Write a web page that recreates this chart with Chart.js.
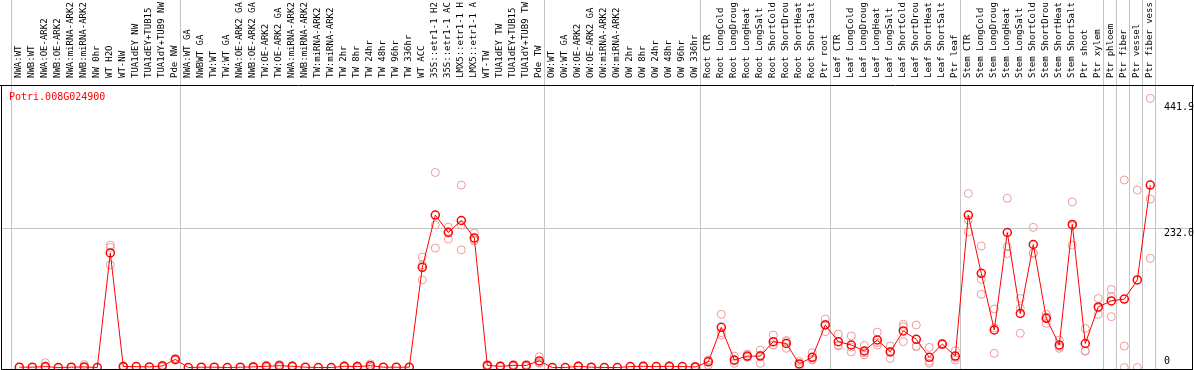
<!DOCTYPE html>
<html>
<head>
<meta charset="utf-8">
<script src="https://cdn.jsdelivr.net/npm/chart.js@4"></script>
<style>
  html, body { margin: 0; padding: 0; background: #fff; }
  canvas { display: block; }
</style>
</head>
<body>
<canvas id="geneChart" width="1194" height="370"></canvas>
<script>
// Sample names (truncated to 14 chars, as in the source plot)
const categories = [
  'NWA:WT', 'NWB:WT', 'NWA:OE-ARK2', 'NWB:OE-ARK2', 'NWA:miRNA-ARK2', 'NWB:miRNA-ARK2',
  'NW 0hr', 'WT H2O', 'WT-NW', 'TUA1dEY NW', 'TUA1dEY+TUB15', 'TUA1dY+TUB9 NW', 'Pde NW',
  'NWA:WT GA', 'NWBWT GA', 'TW:WT', 'TW:WT GA', 'NWA:OE-ARK2 GA', 'NWB:OE-ARK2 GA',
  'TW:OE-ARK2', 'TW:OE-ARK2 GA', 'NWA:miRNA-ARK2', 'NWB:miRNA-ARK2', 'TW:miRNA-ARK2',
  'TW:miRNA-ARK2', 'TW 2hr', 'TW 8hr', 'TW 24hr', 'TW 48hr', 'TW 96hr', 'TW 336hr',
  'WT ACC', '35S::etr1-1 H2', '35S::etr1-1 AC', 'LMX5::etr1-1 H', 'LMX5::etr1-1 A',
  'WT-TW', 'TUA1dEY TW', 'TUA1dEY+TUB15', 'TUA1dY+TUB9 TW', 'Pde TW',
  'OW:WT', 'OW:WT GA', 'OW:OE-ARK2', 'OW:OE-ARK2 GA', 'OW:miRNA-ARK2', 'OW:miRNA-ARK2',
  'OW 2hr', 'OW 8hr', 'OW 24hr', 'OW 48hr', 'OW 96hr', 'OW 336hr',
  'Root CTR', 'Root LongCold', 'Root LongDroug', 'Root LongHeat', 'Root LongSalt',
  'Root ShortCold', 'Root ShortDrou', 'Root ShortHeat', 'Root ShortSalt', 'Ptr root',
  'Leaf CTR', 'Leaf LongCold', 'Leaf LongDroug', 'Leaf LongHeat', 'Leaf LongSalt',
  'Leaf ShortCold', 'Leaf ShortDrou', 'Leaf ShortHeat', 'Leaf ShortSalt', 'Ptr leaf',
  'Stem CTR', 'Stem LongCold', 'Stem LongDroug', 'Stem LongHeat', 'Stem LongSalt',
  'Stem ShortCold', 'Stem ShortDrou', 'Stem ShortHeat', 'Stem ShortSalt', 'Ptr shoot',
  'Ptr xylem', 'Ptr phloem', 'Ptr fiber', 'Ptr vessel', 'Ptr fiber vess'
];

// mean expression per sample
const meanValues = [
  0.5, 0.5, 1.5, 0, 0.5, 1, 0, 191, 1.5, 1.5, 1, 2.5, 13.5,
  0, 0.5, 0.5, 0, 0.5, 1, 2, 3, 2, 0.5, 0, 0, 2, 1.5, 3, 0.5, 0.5, 0.5,
  167, 254, 225, 245, 216, 3.5, 2, 3.5, 3.5, 11,
  0, 0, 2, 0.5, 0, 0, 1.5, 2, 1.5, 2, 1.5, 1,
  9.5, 67, 12.5, 19, 19, 43, 40, 6, 17, 71,
  43, 37.5, 27.5, 46, 26, 61, 47, 17, 39, 19,
  254, 157, 62.5, 225, 90, 205, 82, 37.5, 238.5, 40,
  101, 111, 114, 146, 304
];

// individual replicates (null = not shown)
const rep1 = [
  null, null, 8, null, null, 5, null, 204, 3, null, null, 4, 15,
  null, null, null, null, null, 2, 4, 5, 3, null, null, null, 3, 3, 6, null, null, null,
  184, 325, 234, 304, 224, 5, 3, 5, 5, 18,
  null, null, 3, null, null, null, null, 3, null, 3, null, 2,
  12.5, 88.6, 19, 22.5, 29, 54, 43, 10, 24.7, 80.8,
  55.8, 52.5, 37, 59, 36, 72, 70.8, 33.6, 40, 28,
  290, 202.5, 97.5, 282, 115, 233.6, 88.6, 45.8, 276, 65,
  115, 130, 312.5, 295.8, 448.6
];
const rep2 = [
  null, null, 0, null, null, 0, null, 200, 0.5, null, null, 1, 12,
  null, null, null, null, null, 0, 0, 1, 1, null, null, null, 1, 0, 0, null, null, null,
  146, 237.5, 214, 237.5, 211, 2, 1, 2, 2, 7,
  null, null, 1, null, null, null, null, 1, null, 1, null, 0,
  4, 54, 7, 17, 7, 37.5, 32, 2.5, 12.5, 59.7,
  37.5, 26, 21, 37.5, 15, 43, 34.7, 7, 38, 12.5,
  245.8, 147, 23.6, 201, 98.6, 190, 73.6, 32, 204, 28,
  88.6, 118, 35.8, 0, 280.8
];
const rep3 = [
  null, null, null, null, null, null, null, 171, null, null, null, null, null,
  null, null, null, null, null, null, null, null, null, null, null, null, null, null, null, null, null, null,
  171, 199, 227, 196, 213, null, null, null, null, 8,
  null, null, null, null, null, null, null, null, null, null, null, null,
  12, 58, 11, 17.5, 21, 37.5, 45, 5.5, 14, 72,
  36, 34, 24.5, 41.5, 27, 68, 35.5, 10.4, null, 16.5,
  226, 122, 66, 190, 57, 191, 84, 35, 236, 27,
  99, 84.7, 0, null, 182
];

// last sample index of each group (vertical separators)
const groupEnds = [-1, 12, 40, 52, 62, 72, 83, 84, 85, 86, 87];
const yTicks = [0, 232.0, 441.9];
const yTickLabels = ['0', '232.0', '441.9'];
const geneName = 'Potri.008G024900';

const toPoints = arr => arr.map((v, i) => ({ x: i, y: v })).filter(p => p.y !== null);

const repStyle = {
  showLine: false,
  pointRadius: 4,
  pointBorderWidth: 1,
  pointBorderColor: '#ec9a9a',
  pointBackgroundColor: 'rgba(0,0,0,0)',
  order: 2
};

const decor = {
  id: 'decor',
  beforeDatasetsDraw(chart) {
    const { ctx, chartArea: a, scales: { x, y } } = chart;
    ctx.save();
    ctx.strokeStyle = '#c4c4c4';
    ctx.lineWidth = 1;
    groupEnds.forEach(k => {
      const px = Math.round(x.getPixelForValue(k + 0.36)) + 0.5;
      ctx.beginPath();
      ctx.moveTo(px, 0);
      ctx.lineTo(px, a.bottom);
      ctx.stroke();
    });
    const gy = Math.round(y.getPixelForValue(yTicks[1])) + 0.5;
    ctx.beginPath();
    ctx.moveTo(a.left, gy);
    ctx.lineTo(a.right, gy);
    ctx.stroke();

    // gene name
    ctx.fillStyle = '#ff0000';
    ctx.font = '10px "DejaVu Sans Mono"';
    ctx.textBaseline = 'top';
    ctx.textAlign = 'left';
    ctx.fillText(geneName, 9, 92);
    ctx.restore();
  },
  afterDatasetsDraw(chart) {
    const { ctx, chartArea: a, scales: { x, y } } = chart;
    ctx.save();
    // frame
    ctx.strokeStyle = '#000';
    ctx.lineWidth = 1;
    ctx.beginPath();
    ctx.moveTo(0, a.top + 0.5); ctx.lineTo(chart.width, a.top + 0.5);
    ctx.moveTo(a.left + 0.5, a.top); ctx.lineTo(a.left + 0.5, chart.height);
    ctx.moveTo(a.left, a.bottom + 0.5); ctx.lineTo(a.right, a.bottom + 0.5);
    ctx.moveTo(a.right - 0.5, a.top); ctx.lineTo(a.right - 0.5, a.bottom);
    ctx.stroke();

    // right axis labels
    ctx.fillStyle = '#000';
    ctx.font = '10px "DejaVu Sans Mono"';
    ctx.textAlign = 'left';
    yTicks.forEach((t, i) => {
      const py = y.getPixelForValue(t);
      if (t === 0) {
        ctx.textBaseline = 'bottom';
        ctx.fillText(yTickLabels[i], 1164, py - 1);
      } else {
        ctx.textBaseline = 'top';
        ctx.fillText(yTickLabels[i], 1164, py);
      }
    });

    // sample labels, rotated, in the header
    ctx.font = '9px "DejaVu Sans Mono"';
    ctx.textBaseline = 'middle';
    categories.forEach((c, i) => {
      const px = x.getPixelForValue(i) - 1;
      ctx.save();
      ctx.translate(px, 78);
      ctx.rotate(-Math.PI / 2);
      ctx.fillText(c, 0, 0);
      ctx.restore();
    });
    ctx.restore();
  }
};

new Chart(document.getElementById('geneChart'), {
  type: 'line',
  data: {
    datasets: [
      {
        data: toPoints(meanValues),
        borderColor: '#ff0000',
        borderWidth: 1,
        pointRadius: 4,
        pointBorderWidth: 1.5,
        pointBorderColor: '#ff0000',
        pointBackgroundColor: 'rgba(0,0,0,0)',
        tension: 0,
        order: 1
      },
      Object.assign({ data: toPoints(rep1) }, repStyle),
      Object.assign({ data: toPoints(rep2) }, repStyle),
      Object.assign({ data: toPoints(rep3) }, repStyle)
    ]
  },
  options: {
    responsive: false,
    animation: false,
    devicePixelRatio: 1,
    clip: 0,
    layout: { autoPadding: false, padding: { left: 1, right: 1, top: 85, bottom: 1 } },
    plugins: { legend: { display: false }, tooltip: { enabled: false } },
    scales: {
      x: { type: 'linear', display: false, min: -1.4077, max: 90.285 },
      y: { type: 'linear', display: false, min: -2.5, max: 470.83 }
    }
  },
  plugins: [decor]
});
</script>
</body>
</html>
